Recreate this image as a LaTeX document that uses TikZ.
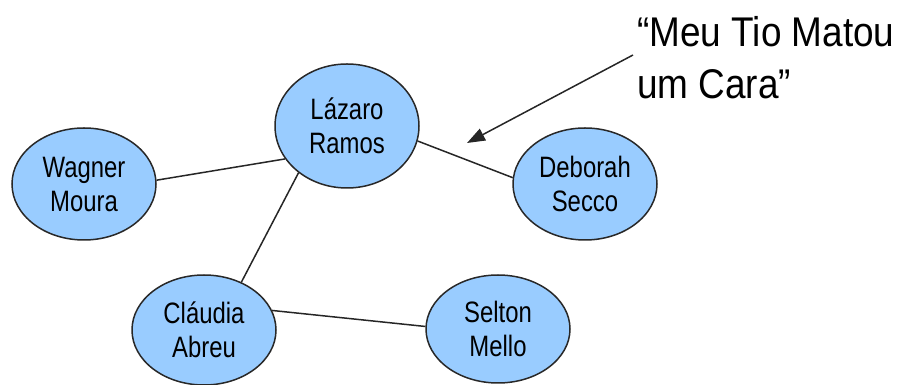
\documentclass[tikz,border=0pt]{standalone}
\usepackage{fontspec}
\setmainfont{Liberation Sans}
\newfontfamily\nodefont[FakeStretch=0.81]{Liberation Sans}
\newfontfamily\notefont[FakeStretch=0.89]{Liberation Sans}
\usetikzlibrary{shapes.geometric,arrows.meta}
\definecolor{bubble}{RGB}{153,204,255}
\definecolor{rim}{RGB}{40,40,40}
\tikzset{
  actor/.style={ellipse, draw=rim, line width=1.5pt, fill=bubble, inner sep=0pt,
    minimum width=144pt, minimum height=112pt, align=center,
    font=\nodefont\fontsize{29.5pt}{34pt}\selectfont, text=black},
  tie/.style={draw=black!85, line width=1.5pt},
  pointer/.style={draw=black!85, line width=1.5pt, -{Triangle[length=18pt,width=13pt]}},
  note/.style={align=left, anchor=north west, inner sep=0pt,
    font=\notefont\fontsize{41.5pt}{52pt}\selectfont}
}
\begin{document}
\begin{tikzpicture}[x=1pt,y=1pt]
  \useasboundingbox (0,0) rectangle (902,385);
  % actors (y measured upward from the bottom edge)
  \node[actor] (wagner) at (84,201) {Wagner\\Moura};
  \node[actor, minimum height=124pt] (lazaro) at (347,259) {Lázaro\\Ramos};
  \node[actor] (deborah) at (585,201) {Deborah\\Secco};
  \node[actor, minimum height=110pt] (claudia) at (204,55) {Cláudia\\Abreu};
  \node[actor, minimum height=108pt] (selton) at (498,56) {Selton\\Mello};
  % co-star links
  \draw[tie] (wagner.3) -- (lazaro.208);
  \draw[tie] (lazaro.224) -- (claudia.52);
  \draw[tie] (claudia.16) -- (selton.178);
  \draw[tie] (lazaro.-12) -- (deborah.175);
  % film title and its pointer
  \node[note] (title) at (637,369) {“Meu Tio Matou\\um Cara”};
  \coordinate (tail) at (633,330);
  \coordinate (tip) at (467,242);
  \draw[pointer] (tail) -- (tip);
\end{tikzpicture}
\end{document}
